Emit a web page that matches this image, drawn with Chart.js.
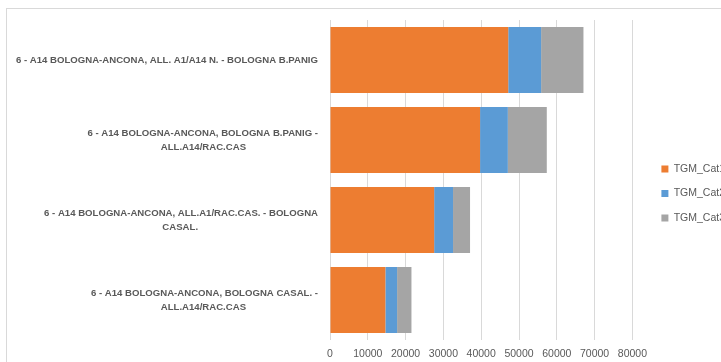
<!DOCTYPE html>
<html>
<head>
<meta charset="utf-8">
<script src="https://cdn.jsdelivr.net/npm/chart.js@4"></script>
<style>
html,body{margin:0;padding:0;background:#fff;overflow:hidden;width:721px;height:362px}
#frame{position:absolute;left:6px;top:8px;width:800px;height:400px;border:1px solid #d9d9d9;box-sizing:border-box}
#c{position:absolute;left:0;top:0}
</style>
</head>
<body>
<div id="frame"></div>
<canvas id="c" width="735" height="362"></canvas>
<script>
// categories, top to bottom as shown
const categories=[
  ["6 - A14 BOLOGNA-ANCONA, ALL. A1/A14 N. - BOLOGNA B.PANIG"],
  ["6 - A14 BOLOGNA-ANCONA, BOLOGNA B.PANIG -","ALL.A14/RAC.CAS"],
  ["6 - A14 BOLOGNA-ANCONA, ALL.A1/RAC.CAS. - BOLOGNA","CASAL."],
  ["6 - A14 BOLOGNA-ANCONA, BOLOGNA CASAL. -","ALL.A14/RAC.CAS"]
];
const seriesNames=["TGM_Cat1","TGM_Cat2","TGM_Cat3"];
const cat1=[47150,39700,27550,14650];
const cat2=[8700,7350,5000,3100];
const cat3=[11200,10300,4500,3800];
const colors=["#ED7D31","#5B9BD5","#A5A5A5"];

const labelFamily="'Liberation Sans',sans-serif";
const labelSize=9.6;
const textColor="#595959";

// second lines are centred under the first one, like excel does
const mctx=document.createElement("canvas").getContext("2d");
mctx.font="bold "+labelSize+"px "+labelFamily;
function centerLines(lines){
  if(lines.length==1) return lines[0];
  const w0=mctx.measureText(lines[0]).width;
  const sp=mctx.measureText(" ").width;
  return lines.map((l,i)=>{
    if(i==0) return l;
    const n=Math.max(0,Math.round((w0-mctx.measureText(l).width)/2/sp));
    return l+" ".repeat(n);
  });
}
const labels=categories.map(centerLines);

const ctx=document.getElementById("c").getContext("2d");
new Chart(ctx,{
  type:"bar",
  data:{
    labels:labels,
    datasets:[cat1,cat2,cat3].map((d,i)=>({
      label:seriesNames[i],
      data:d,
      backgroundColor:colors[i],
      borderWidth:0,
      barPercentage:0.825,
      categoryPercentage:1
    }))
  },
  options:{
    indexAxis:"y",
    responsive:false,
    animation:false,
    layout:{padding:{top:20,left:0,right:0,bottom:0}},
    plugins:{
      legend:{
        position:"right",
        // empty title only nudges the items down a little
        title:{display:true,text:"",font:{size:1},padding:{top:0,bottom:4}},
        labels:{
          boxWidth:7,boxHeight:7,padding:14,color:textColor,
          font:{family:"'Liberation Sans',sans-serif",size:10.5}
        }
      },
      tooltip:{enabled:false}
    },
    scales:{
      x:{
        stacked:true,min:0,max:80000,
        grid:{color:"#d9d9d9",drawTicks:false},
        border:{display:false},
        ticks:{stepSize:10000,padding:8,color:textColor,
          maxRotation:0,minRotation:0,autoSkip:false,
          format:{useGrouping:false},
          font:{family:"'Liberation Sans',sans-serif",size:10.5}},
        afterFit:s=>{s.height=22;}
      },
      y:{
        stacked:true,
        grid:{display:false},
        border:{display:false},
        ticks:{padding:4,color:textColor,
          font:{family:labelFamily,size:labelSize,weight:"bold",lineHeight:1.46}},
        afterFit:s=>{s.width=330;}
      },
      gap:{
        type:"linear",position:"right",display:true,
        grid:{display:false},border:{display:false},
        ticks:{display:false},
        afterFit:s=>{s.width=15;}
      }
    }
  }
});
</script>
</body>
</html>
